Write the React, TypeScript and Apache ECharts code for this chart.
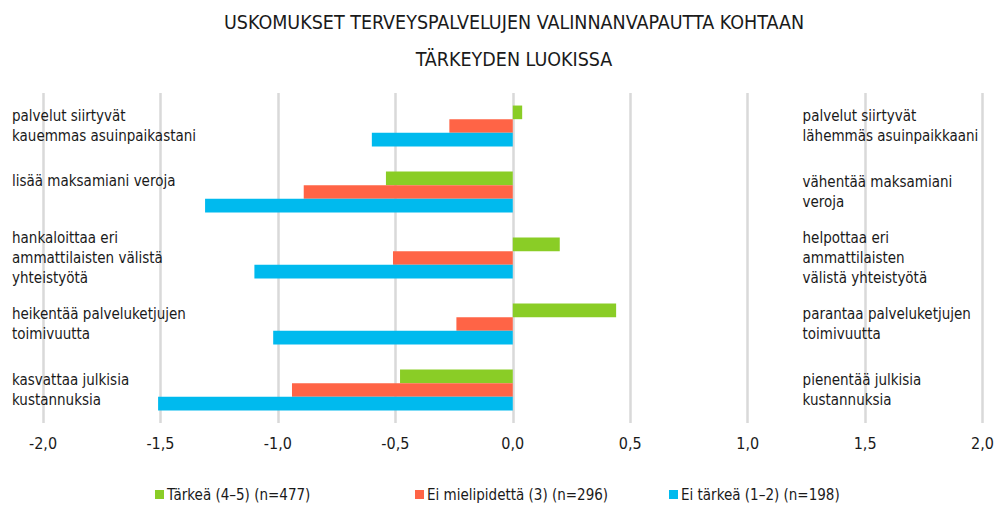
import React, { useEffect, useRef } from "react";
import * as echarts from "echarts";

const titleText = "USKOMUKSET TERVEYSPALVELUJEN VALINNANVAPAUTTA KOHTAAN\nTÄRKEYDEN LUOKISSA";
const leftLabels = [
  "palvelut siirtyvät\nkauemmas asuinpaikastani",
  "lisää maksamiani veroja",
  "hankaloittaa eri\nammattilaisten välistä\nyhteistyötä",
  "heikentää palveluketjujen\ntoimivuutta",
  "kasvattaa julkisia\nkustannuksia",
];
const rightLabels = [
  "palvelut siirtyvät\nlähemmäs asuinpaikkaani",
  "vähentää maksamiani\nveroja",
  "helpottaa eri\nammattilaisten\nvälistä yhteistyötä",
  "parantaa palveluketjujen\ntoimivuutta",
  "pienentää julkisia\nkustannuksia",
];
const seriesNames = ["Tärkeä (4–5) (n=477)", "Ei mielipidettä (3) (n=296)", "Ei tärkeä (1–2) (n=198)"];
const tarkea = [0.04, -0.54, 0.2, 0.44, -0.48];
const eiMielipidetta = [-0.27, -0.89, -0.51, -0.24, -0.94];
const eiTarkea = [-0.6, -1.31, -1.1, -1.02, -1.51];
const colors = ["#8ACD26", "#FF6446", "#00BAEE"];
const xTicks = { min: -2, max: 2, interval: 0.5 };

const FONT = "'Liberation Sans Narrow', 'DejaVu Sans Condensed', 'Roboto Condensed', 'Noto Sans', sans-serif";

export default function App() {
  const ref = useRef<HTMLDivElement>(null);
  useEffect(() => {
    const chart = echarts.init(ref.current!, null, { renderer: "svg" });
    const values = [tarkea, eiMielipidetta, eiTarkea];
    const legendLeft = [152, 412, 666];
    chart.setOption({
      animation: false,
      textStyle: { fontFamily: FONT },
      title: {
        text: titleText,
        left: 514,
        textAlign: "center",
        top: 4,
        padding: 0,
        textStyle: { fontFamily: FONT, fontSize: 19.5, fontWeight: "normal", color: "#1a1a1a", lineHeight: 37 },
      },
      legend: seriesNames.map((n, i) => ({
        data: [n],
        left: legendLeft[i] - 2,
        top: 482,
        itemWidth: 9,
        itemHeight: 9,
        icon: "rect",
        itemGap: 4,
        textStyle: { fontFamily: FONT, fontSize: 15, color: "#1a1a1a", padding: [0, 0, 0, -2] },
      })),
      grid: { left: 43, right: 11, top: 93, bottom: 91, containLabel: false },
      xAxis: {
        type: "value",
        min: xTicks.min,
        max: xTicks.max,
        interval: xTicks.interval,
        axisLine: { show: false },
        axisTick: { show: false },
        splitLine: { lineStyle: { color: "#d9d9d9", width: 2.5 } },
        axisLabel: {
          fontFamily: FONT,
          fontSize: 16,
          color: "#1a1a1a",
          margin: 12,
          formatter: (v: number) => v.toFixed(1).replace(".", ","),
        },
      },
      yAxis: [
        {
          type: "category",
          data: leftLabels,
          inverse: true,
          position: "left",
          axisLine: { show: false },
          axisTick: { show: false },
          axisLabel: {
            align: "left",
            margin: 31,
            fontFamily: FONT,
            fontSize: 15,
            lineHeight: 20,
            color: "#1a1a1a",
            formatter: (v: string) => (v.indexOf("\n") < 0 ? `{up|${v}}` : v),
            rich: { up: { fontFamily: FONT, fontSize: 15, color: "#1a1a1a", padding: [0, 0, 22, 0] } },
          },
        },
        {
          type: "category",
          data: rightLabels,
          inverse: true,
          position: "right",
          axisLine: { show: false },
          axisTick: { show: false },
          axisLabel: {
            align: "left",
            margin: -180,
            fontFamily: FONT,
            fontSize: 15,
            lineHeight: 20,
            color: "#1a1a1a",
          },
        },
      ],
      series: seriesNames.map((n, i) => ({
        name: n,
        type: "bar",
        yAxisIndex: 0,
        data: values[i],
        barGap: "0%",
        barCategoryGap: "38%",
        itemStyle: { color: colors[i] },
      })),
    });
    return () => chart.dispose();
  }, []);
  return <div ref={ref} style={{ width: 997, height: 514, position: "absolute", left: 0, top: 0 }} />;
}
